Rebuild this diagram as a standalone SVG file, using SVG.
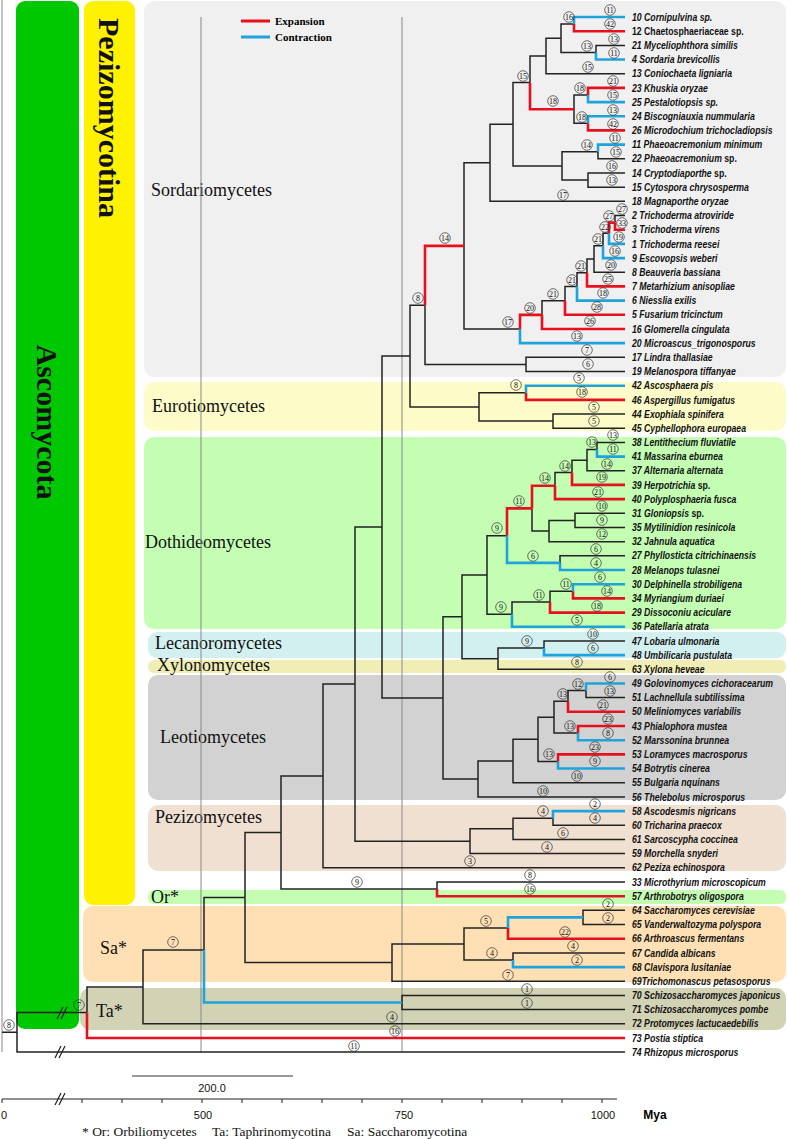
<svg xmlns="http://www.w3.org/2000/svg" width="787" height="1139" viewBox="0 0 787 1139">
<style>
.k{fill:none;stroke:#222;stroke-width:1.5}
.r{fill:none;stroke:#e8101e;stroke-width:2.6}
.b{fill:none;stroke:#1ea3dc;stroke-width:2.6}
.g{stroke:#888;stroke-width:1}
.lc{fill:none;stroke:#333;stroke-width:0.7}
.lt{font-family:"Liberation Serif",serif;font-size:8px;text-anchor:middle;fill:#111}
.tx{font-family:"Liberation Sans",Arial,sans-serif;font-size:10.5px;font-weight:bold;font-style:italic;fill:#111}
.up{font-style:normal}
.cl{font-family:"Liberation Serif",serif;font-size:18px;fill:#111}
.big{font-family:"Liberation Serif",serif;font-size:30px;font-weight:bold;fill:#111}
.ax{font-family:"Liberation Sans",Arial,sans-serif;font-size:11px;fill:#111;text-anchor:middle}
</style>
<rect width="787" height="1139" fill="#fff"/>
<g id="boxes">
<rect x="16" y="1" width="63" height="1028" rx="9" fill="#00c800"/>
<rect x="84" y="1" width="51" height="904" rx="9" fill="#fff200"/>
<rect x="144" y="1" width="642" height="376" rx="11" fill="#f0f0f0"/>
<rect x="144" y="382" width="642" height="49" rx="10" fill="#fdfcc8"/>
<rect x="144" y="437" width="642" height="192" rx="10" fill="#c3feb3"/>
<rect x="148" y="632" width="638" height="26" rx="9" fill="#d3f0f0"/>
<rect x="148" y="660" width="638" height="13" rx="6" fill="#f0eeb4"/>
<rect x="148" y="675" width="638" height="125" rx="10" fill="#d2d2d2"/>
<rect x="148" y="805" width="638" height="66" rx="10" fill="#f0e0d2"/>
<rect x="148" y="890" width="638" height="14" rx="6" fill="#c3feb3"/>
<rect x="83" y="906" width="703" height="76" rx="10" fill="#ffe0b4"/>
<rect x="80" y="988" width="706" height="42" rx="10" fill="#d2d2b4"/>
</g>
<g id="clade-labels">
<text class="big" transform="translate(47,422) rotate(90)" text-anchor="middle" dominant-baseline="central">Ascomycota</text>
<text class="big" transform="translate(109,118) rotate(90)" text-anchor="middle" dominant-baseline="central" font-size="27">Pezizomycotina</text>
<text class="cl" x="151" y="196">Sordariomycetes</text>
<text class="cl" x="152" y="412">Eurotiomycetes</text>
<text class="cl" x="145" y="548">Dothideomycetes</text>
<text class="cl" x="155" y="649">Lecanoromycetes</text>
<text class="cl" x="157" y="671">Xylonomycetes</text>
<text class="cl" x="160" y="743">Leotiomycetes</text>
<text class="cl" x="155" y="823">Pezizomycetes</text>
<text class="cl" x="151" y="903">Or*</text>
<text class="cl" x="100" y="954">Sa*</text>
<text class="cl" x="96" y="1017">Ta*</text>
</g>
<g id="grid">
<line class="g" x1="2" y1="0" x2="2" y2="1052" stroke="#aaa"/>
<line class="g" x1="201" y1="17" x2="201" y2="1052"/>
<line class="g" x1="402" y1="17" x2="402" y2="1052"/>
</g>
<g id="legend">
<line x1="241" y1="21" x2="270" y2="21" stroke="#e8101e" stroke-width="3"/>
<line x1="241" y1="37" x2="270" y2="37" stroke="#1ea3dc" stroke-width="3"/>
<text x="275" y="25" font-family="Liberation Serif,serif" font-size="11" font-weight="bold">Expansion</text>
<text x="275" y="41" font-family="Liberation Serif,serif" font-size="11" font-weight="bold">Contraction</text>
</g>
<g id="connectors">
<path class="k" d="M561 38.3V24.1H574M546 56V38.3H561M561 38.3V52.45H596M596 52.45V45.4H625M546 56V73.7H625M530 82.6V56H546M574 109.2V95H588M574 109.2V123.35H588M513 124.25V82.6H530M562 165.9V151.7H598M598 151.7V158.8H625M562 165.9V180.1H588M588 180.1V173H625M588 180.1V187.2H625M513 124.25V165.9H562M490 162.8V124.25H513M490 162.8V201.3H625M464 245.9V162.8H490M464 245.9V328.97H520M542 314.85V300.7H565M565 300.7V286.6H577M577 286.6V272.7H587M587 272.7V258.95H594M594 258.95V245.7H603M594 258.95V272.2H625M603 245.7V233.25H609M615 222.6V215.5H625M425 305.15V364.4H526M526 364.4V357.3H625M526 364.4V371.5H625M410 356.05V305.15H425M410 356.05V406.95H479M479 406.95V392.8H526M479 406.95V421.1H553M553 421.1V414H625M553 421.1V428.2H625M382 527V356.05H410"/>
<path class="k" d="M587 460.15V449.5H597M597 449.5V442.4H625M572 472.5V460.15H587M587 460.15V470.8H625M555 485.8V472.5H572M532 508.4V531.05H549M549 531.05V520.4H575M575 520.4V513.3H625M575 520.4V527.5H625M549 531.05V541.7H625M560 562.9V555.8H625M487 575V535.65H507M487 575V614.3H512M512 614.3V601.95H550M550 601.95V591.3H573M462 616.8V575H487M462 616.8V658.65H498M498 658.65V648H544M544 648V640.9H625M498 658.65V669.3H625M443 697.9V616.8H462"/>
<path class="k" d="M568 701.2V690.55H586M586 690.55V697.6H625M554 717.15V701.2H568M554 717.15V733.1H578M538 739.3V717.15H554M538 739.3V761.45H558M513 761V739.3H538M513 761V782.7H625M478 778.95V761H513M478 778.95V796.9H625M443 697.9V778.95H478M382 527V697.9H443M355 684.1V527H382"/>
<path class="k" d="M513 828.8V818.2H553M553 818.2V825.3H625M513 828.8V839.4H625M470 841.2V828.8H513M470 841.2V853.6H625M355 684.1V841.2H470M323 775.95V684.1H355M323 775.95V867.8H625M281 832.5V775.95H323M281 832.5V889.1H437M437 889.1V882H625M245 897.55V832.5H281"/>
<path class="k" d="M583 917.4V910.3H625M583 917.4V924.5H625M464 944V928.05H508M464 944V960H513M513 960V952.9H625M392 962.6V944H464M392 962.6V981.2H625M245 897.55V962.6H392M204 950V897.55H245M402 1002.5V995.4H625M402 1002.5V1009.6H625M143 986.9V950H204M143 986.9V1023.8H625M87 1012.45V986.9H143M17 1032.3V1012.45H87M17 1032.3V1052.1H625M2 1032.3H17"/>
<path class="r" d="M574 24.1V31.2H625M530 82.6V109.2H574M588 95V87.9H625M588 123.35V130.4H625M425 305.15V245.9H464M520 328.97V314.85H542M542 314.85V329H625M565 300.7V314.8H625M587 272.7V286.4H625M609 233.25V222.6H615M615 222.6V229.7H625M526 392.8V399.9H625M572 472.5V484.9H625M532 508.4V485.8H555M555 485.8V499.1H625M507 535.65V508.4H532M573 591.3V598.4H625M550 601.95V612.6H625M568 701.2V711.8H625M578 733.1V726H625M558 761.45V754.4H625M437 889.1V896.2H625M508 928.05V938.7H625M87 1012.45V1038H625"/>
<path class="b" d="M574 24.1V17H625M596 52.45V59.5H625M588 95V102.1H625M588 123.35V116.3H625M598 151.7V144.6H625M603 245.7V258.1H625M609 233.25V243.9H625M577 286.6V300.6H625M520 328.97V343.1H625M526 392.8V385.7H625M597 449.5V456.6H625M507 535.65V562.9H560M560 562.9V570H625M573 591.3V584.2H625M512 614.3V626.7H625M544 648V655.1H625M586 690.55V683.5H625M578 733.1V740.2H625M558 761.45V768.5H625M553 818.2V811.1H625M508 928.05V917.4H583M513 960V967.1H625M204 950V1002.5H402"/>
<path d="M57 1019L63 1007M61 1019L67 1007M55 1058L61 1046M59 1058L65 1046" stroke="#222" stroke-width="1.2" fill="none"/>
</g>
<g id="branch-labels">
<g class="lc">
<circle cx="610" cy="10" r="5.3"/><circle cx="610" cy="24" r="5.3"/><circle cx="569" cy="17" r="5.3"/><circle cx="614" cy="39" r="5.3"/><circle cx="614" cy="53" r="5.3"/><circle cx="587" cy="46" r="5.3"/><circle cx="588" cy="67" r="5.3"/><circle cx="523" cy="76" r="5.3"/><circle cx="553" cy="101" r="5.3"/><circle cx="580" cy="88" r="5.3"/><circle cx="613" cy="81" r="5.3"/><circle cx="613" cy="95" r="5.3"/><circle cx="582" cy="117" r="5.3"/><circle cx="613" cy="110" r="5.3"/><circle cx="613" cy="124" r="5.3"/><circle cx="587" cy="145" r="5.3"/><circle cx="615" cy="138" r="5.3"/><circle cx="616" cy="152" r="5.3"/><circle cx="612" cy="166" r="5.3"/><circle cx="612" cy="180" r="5.3"/><circle cx="563" cy="195" r="5.3"/><circle cx="445" cy="238" r="5.3"/><circle cx="622" cy="209" r="5.3"/><circle cx="609" cy="216" r="5.3"/><circle cx="622" cy="223" r="5.3"/><circle cx="605" cy="227" r="5.3"/><circle cx="619" cy="237" r="5.3"/><circle cx="598" cy="239" r="5.3"/><circle cx="615" cy="251" r="5.3"/><circle cx="611" cy="265" r="5.3"/><circle cx="581" cy="266" r="5.3"/><circle cx="608" cy="279" r="5.3"/><circle cx="572" cy="280" r="5.3"/><circle cx="603" cy="293" r="5.3"/><circle cx="553" cy="294" r="5.3"/><circle cx="597" cy="307" r="5.3"/><circle cx="530" cy="308" r="5.3"/><circle cx="590" cy="321" r="5.3"/><circle cx="508" cy="322" r="5.3"/><circle cx="577" cy="336" r="5.3"/><circle cx="587" cy="350" r="5.3"/><circle cx="588" cy="364" r="5.3"/><circle cx="418" cy="298" r="5.3"/><circle cx="516" cy="385" r="5.3"/><circle cx="579" cy="378" r="5.3"/><circle cx="582" cy="392" r="5.3"/><circle cx="594" cy="407" r="5.3"/><circle cx="594" cy="421" r="5.3"/>
<circle cx="592" cy="442" r="5.3"/><circle cx="613" cy="435" r="5.3"/><circle cx="613" cy="449" r="5.3"/><circle cx="607" cy="464" r="5.3"/><circle cx="565" cy="466" r="5.3"/><circle cx="602" cy="477" r="5.3"/><circle cx="545" cy="478" r="5.3"/><circle cx="598" cy="492" r="5.3"/><circle cx="602" cy="506" r="5.3"/><circle cx="602" cy="520" r="5.3"/><circle cx="602" cy="534" r="5.3"/><circle cx="519" cy="501" r="5.3"/><circle cx="497" cy="528" r="5.3"/><circle cx="596" cy="549" r="5.3"/><circle cx="596" cy="563" r="5.3"/><circle cx="533" cy="556" r="5.3"/><circle cx="600" cy="577" r="5.3"/><circle cx="607" cy="591" r="5.3"/><circle cx="566" cy="584" r="5.3"/><circle cx="539" cy="595" r="5.3"/><circle cx="501" cy="607" r="5.3"/><circle cx="597" cy="606" r="5.3"/><circle cx="577" cy="620" r="5.3"/><circle cx="527" cy="641" r="5.3"/><circle cx="593" cy="634" r="5.3"/><circle cx="593" cy="648" r="5.3"/><circle cx="577" cy="662" r="5.3"/>
<circle cx="610" cy="677" r="5.3"/><circle cx="610" cy="691" r="5.3"/><circle cx="578" cy="684" r="5.3"/><circle cx="563" cy="694" r="5.3"/><circle cx="603" cy="705" r="5.3"/><circle cx="608" cy="719" r="5.3"/><circle cx="570" cy="726" r="5.3"/><circle cx="608" cy="733" r="5.3"/><circle cx="595" cy="747" r="5.3"/><circle cx="549" cy="754" r="5.3"/><circle cx="595" cy="761" r="5.3"/><circle cx="577" cy="776" r="5.3"/><circle cx="543" cy="791" r="5.3"/><circle cx="595" cy="804" r="5.3"/><circle cx="543" cy="811" r="5.3"/><circle cx="595" cy="818" r="5.3"/><circle cx="563" cy="833" r="5.3"/><circle cx="547" cy="847" r="5.3"/><circle cx="470" cy="861" r="5.3"/><circle cx="357" cy="882" r="5.3"/><circle cx="530" cy="875" r="5.3"/><circle cx="530" cy="889" r="5.3"/>
<circle cx="608" cy="904" r="5.3"/><circle cx="608" cy="918" r="5.3"/><circle cx="486" cy="921" r="5.3"/><circle cx="565" cy="932" r="5.3"/><circle cx="492" cy="953" r="5.3"/><circle cx="573" cy="946" r="5.3"/><circle cx="577" cy="960" r="5.3"/><circle cx="508" cy="975" r="5.3"/><circle cx="173" cy="942" r="5.3"/><circle cx="527" cy="989" r="5.3"/><circle cx="527" cy="1003" r="5.3"/><circle cx="392" cy="1017" r="5.3"/><circle cx="79" cy="1005" r="5.3"/><circle cx="395" cy="1031" r="5.3"/><circle cx="354" cy="1046" r="5.3"/><circle cx="9" cy="1025" r="5.3"/>
</g>
<g class="lt">
<text x="610" y="12.8">11</text><text x="610" y="26.8">42</text><text x="569" y="19.8">16</text><text x="614" y="41.8">13</text><text x="614" y="55.8">11</text><text x="587" y="48.8">13</text><text x="588" y="69.8">15</text><text x="523" y="78.8">15</text><text x="553" y="103.8">18</text><text x="580" y="90.8">18</text><text x="613" y="83.8">21</text><text x="613" y="97.8">15</text><text x="582" y="119.8">18</text><text x="613" y="112.8">13</text><text x="613" y="126.8">42</text><text x="587" y="147.8">14</text><text x="615" y="140.8">11</text><text x="616" y="154.8">15</text><text x="612" y="168.8">16</text><text x="612" y="182.8">13</text><text x="563" y="197.8">17</text><text x="445" y="240.8">14</text><text x="622" y="211.8">27</text><text x="609" y="218.8">27</text><text x="622" y="225.8">33</text><text x="605" y="229.8">22</text><text x="619" y="239.8">19</text><text x="598" y="241.8">21</text><text x="615" y="253.8">16</text><text x="611" y="267.8">20</text><text x="581" y="268.8">21</text><text x="608" y="281.8">25</text><text x="572" y="282.8">21</text><text x="603" y="295.8">18</text><text x="553" y="296.8">21</text><text x="597" y="309.8">28</text><text x="530" y="310.8">20</text><text x="590" y="323.8">26</text><text x="508" y="324.8">17</text><text x="577" y="338.8">13</text><text x="587" y="352.8">7</text><text x="588" y="366.8">6</text><text x="418" y="300.8">8</text><text x="516" y="387.8">8</text><text x="579" y="380.8">5</text><text x="582" y="394.8">18</text><text x="594" y="409.8">5</text><text x="594" y="423.8">5</text>
<text x="592" y="444.8">13</text><text x="613" y="437.8">13</text><text x="613" y="451.8">11</text><text x="607" y="466.8">14</text><text x="565" y="468.8">14</text><text x="602" y="479.8">19</text><text x="545" y="480.8">14</text><text x="598" y="494.8">21</text><text x="602" y="508.8">10</text><text x="602" y="522.8">9</text><text x="602" y="536.8">12</text><text x="519" y="503.8">11</text><text x="497" y="530.8">9</text><text x="596" y="551.8">6</text><text x="596" y="565.8">4</text><text x="533" y="558.8">6</text><text x="600" y="579.8">6</text><text x="607" y="593.8">14</text><text x="566" y="586.8">11</text><text x="539" y="597.8">11</text><text x="501" y="609.8">9</text><text x="597" y="608.8">18</text><text x="577" y="622.8">5</text><text x="527" y="643.8">9</text><text x="593" y="636.8">10</text><text x="593" y="650.8">6</text><text x="577" y="664.8">8</text>
<text x="610" y="679.8">6</text><text x="610" y="693.8">13</text><text x="578" y="686.8">12</text><text x="563" y="696.8">13</text><text x="603" y="707.8">21</text><text x="608" y="721.8">23</text><text x="570" y="728.8">13</text><text x="608" y="735.8">8</text><text x="595" y="749.8">23</text><text x="549" y="756.8">13</text><text x="595" y="763.8">9</text><text x="577" y="778.8">10</text><text x="543" y="793.8">10</text><text x="595" y="806.8">2</text><text x="543" y="813.8">4</text><text x="595" y="820.8">4</text><text x="563" y="835.8">6</text><text x="547" y="849.8">4</text><text x="470" y="863.8">3</text><text x="357" y="884.8">9</text><text x="530" y="877.8">8</text><text x="530" y="891.8">16</text>
<text x="608" y="906.8">2</text><text x="608" y="920.8">2</text><text x="486" y="923.8">5</text><text x="565" y="934.8">22</text><text x="492" y="955.8">4</text><text x="573" y="948.8">4</text><text x="577" y="962.8">2</text><text x="508" y="977.8">7</text><text x="173" y="944.8">7</text><text x="527" y="991.8">1</text><text x="527" y="1005.8">1</text><text x="392" y="1019.8">4</text><text x="79" y="1007.8">7</text><text x="395" y="1033.8">16</text><text x="354" y="1048.8">11</text><text x="9" y="1027.8">8</text>
</g>
</g>
<g id="taxa" class="tx" transform="translate(632,0) scale(0.83,1)" xml:space="preserve">
<text x="0" y="20.7">10 Cornipulvina sp.</text>
<text x="0" y="34.9" class="up">12  Chaetosphaeriaceae sp.</text>
<text x="0" y="49.1">21 Myceliophthora similis</text>
<text x="0" y="63.2">4 Sordaria brevicollis</text>
<text x="0" y="77.4">13 Coniochaeta ligniaria</text>
<text x="0" y="91.6">23 Khuskia oryzae</text>
<text x="0" y="105.8">25 Pestalotiopsis sp.</text>
<text x="0" y="120">24 Biscogniauxia nummularia</text>
<text x="0" y="134.1">26 Microdochium trichocladiopsis</text>
<text x="0" y="148.3">11 Phaeoacremonium minimum</text>
<text x="0" y="162.5">22 Phaeoacremonium <tspan class="up">sp.</tspan></text>
<text x="0" y="176.7">14 Cryptodiaporthe <tspan class="up">sp.</tspan></text>
<text x="0" y="190.9">15  Cytospora chrysosperma</text>
<text x="0" y="205">18 Magnaporthe oryzae</text>
<text x="0" y="219.2">2 Trichoderma atroviride</text>
<text x="0" y="233.4">3 Trichoderma virens</text>
<text x="0" y="247.6">1 Trichoderma reesei</text>
<text x="0" y="261.8">9 Escovopsis weberi</text>
<text x="0" y="275.9">8 Beauveria bassiana</text>
<text x="0" y="290.1">7 Metarhizium anisopliae</text>
<text x="0" y="304.3">6 Niesslia exilis</text>
<text x="0" y="318.5">5 Fusarium tricinctum</text>
<text x="0" y="332.7">16 Glomerella cingulata</text>
<text x="0" y="346.8">20 Microascus_trigonosporus</text>
<text x="0" y="361">17 Lindra thallasiae</text>
<text x="0" y="375.2">19 Melanospora tiffanyae</text>
<text x="0" y="389.4">42 Ascosphaera pis</text>
<text x="0" y="403.6">46 Aspergillus fumigatus</text>
<text x="0" y="417.7">44 Exophiala spinifera</text>
<text x="0" y="431.9">45 Cyphellophora europaea</text>
<text x="0" y="446.1">38 Lentithecium fluviatile</text>
<text x="0" y="460.3">41 Massarina eburnea</text>
<text x="0" y="474.5">37 Alternaria alternata</text>
<text x="0" y="488.6">39 Herpotrichia <tspan class="up">sp.</tspan></text>
<text x="0" y="502.8">40 Polyplosphaeria fusca</text>
<text x="0" y="517">31 Gloniopsis <tspan class="up">sp.</tspan></text>
<text x="0" y="531.2">35 Mytilinidion resinicola</text>
<text x="0" y="545.4">32 Jahnula aquatica</text>
<text x="0" y="559.5">27 Phyllosticta citrichinaensis</text>
<text x="0" y="573.7">28 Melanops tulasnei</text>
<text x="0" y="587.9">30 Delphinella strobiligena</text>
<text x="0" y="602.1">34 Myriangium duriaei</text>
<text x="0" y="616.3">29 Dissoconiu  aciculare</text>
<text x="0" y="630.4">36 Patellaria atrata</text>
<text x="0" y="644.6">47 Lobaria ulmonaria</text>
<text x="0" y="658.8">48 Umbilicaria pustulata</text>
<text x="0" y="673">63 Xylona heveae</text>
<text x="0" y="687.2">49 Golovinomyces cichoracearum</text>
<text x="0" y="701.3">51 Lachnellula subtilissima</text>
<text x="0" y="715.5">50 Meliniomyces variabilis</text>
<text x="0" y="729.7">43 Phialophora mustea</text>
<text x="0" y="743.9">52 Marssonina brunnea</text>
<text x="0" y="758.1">53 Loramyces macrosporus</text>
<text x="0" y="772.2">54 Botrytis cinerea</text>
<text x="0" y="786.4">55 Bulgaria nquinans</text>
<text x="0" y="800.6">56 Thelebolus microsporus</text>
<text x="0" y="814.8">58 Ascodesmis nigricans</text>
<text x="0" y="829">60 Tricharina praecox</text>
<text x="0" y="843.1">61 Sarcoscypha coccinea</text>
<text x="0" y="857.3">59 Morchella snyderi</text>
<text x="0" y="871.5">62 Peziza echinospora</text>
<text x="0" y="885.7">33 Microthyrium microscopicum</text>
<text x="0" y="899.9">57 Arthrobotrys oligospora</text>
<text x="0" y="914">64 Saccharomyces cerevisiae</text>
<text x="0" y="928.2">65 Vanderwaltozyma polyspora</text>
<text x="0" y="942.4">66 Arthroascus fermentans</text>
<text x="0" y="956.6">67 Candida albicans</text>
<text x="0" y="970.8">68 Clavispora lusitaniae</text>
<text x="0" y="984.9">69Trichomonascus petasosporus</text>
<text x="0" y="999.1">70 Schizosaccharomyces japonicus</text>
<text x="0" y="1013.3">71 Schizosaccharomyces pombe</text>
<text x="0" y="1027.5">72 Protomyces lactucaedebilis</text>
<text x="0" y="1041.7">73 Postia stiptica</text>
<text x="0" y="1055.8">74 Rhizopus microsporus</text>
</g>
<g id="axis">
<line x1="132" y1="1076" x2="293" y2="1076" stroke="#777" stroke-width="1.5"/>
<text class="ax" x="212" y="1092">200.0</text>
<line x1="2" y1="1099" x2="617" y2="1099" stroke="#222" stroke-width="1.2"/>
<path d="M2 1099v4M82 1099v4M122 1099v4M162 1099v4M202 1099v4M242 1099v4M282 1099v4M322 1099v4M362 1099v4M402 1099v4M442 1099v4M482 1099v4M522 1099v4M562 1099v4M602 1099v4" stroke="#222" stroke-width="1"/>
<path d="M55 1105L61 1093M59 1105L65 1093" stroke="#222" stroke-width="1.2" fill="none"/>
<text class="ax" x="4" y="1119">0</text>
<text class="ax" x="203" y="1119">500</text>
<text class="ax" x="404" y="1119">750</text>
<text class="ax" x="603" y="1119">1000</text>
<text x="655" y="1119" font-family="Liberation Sans,Arial,sans-serif" font-size="12" font-weight="bold" text-anchor="middle">Mya</text>
<g font-family="Liberation Serif,serif" font-size="13.5" fill="#111">
<text x="82" y="1136">* Or: Orbiliomycetes</text>
<text x="212" y="1136">Ta: Taphrinomycotina</text>
<text x="347" y="1136">Sa: Saccharomycotina</text>
</g>
</g>
</svg>
